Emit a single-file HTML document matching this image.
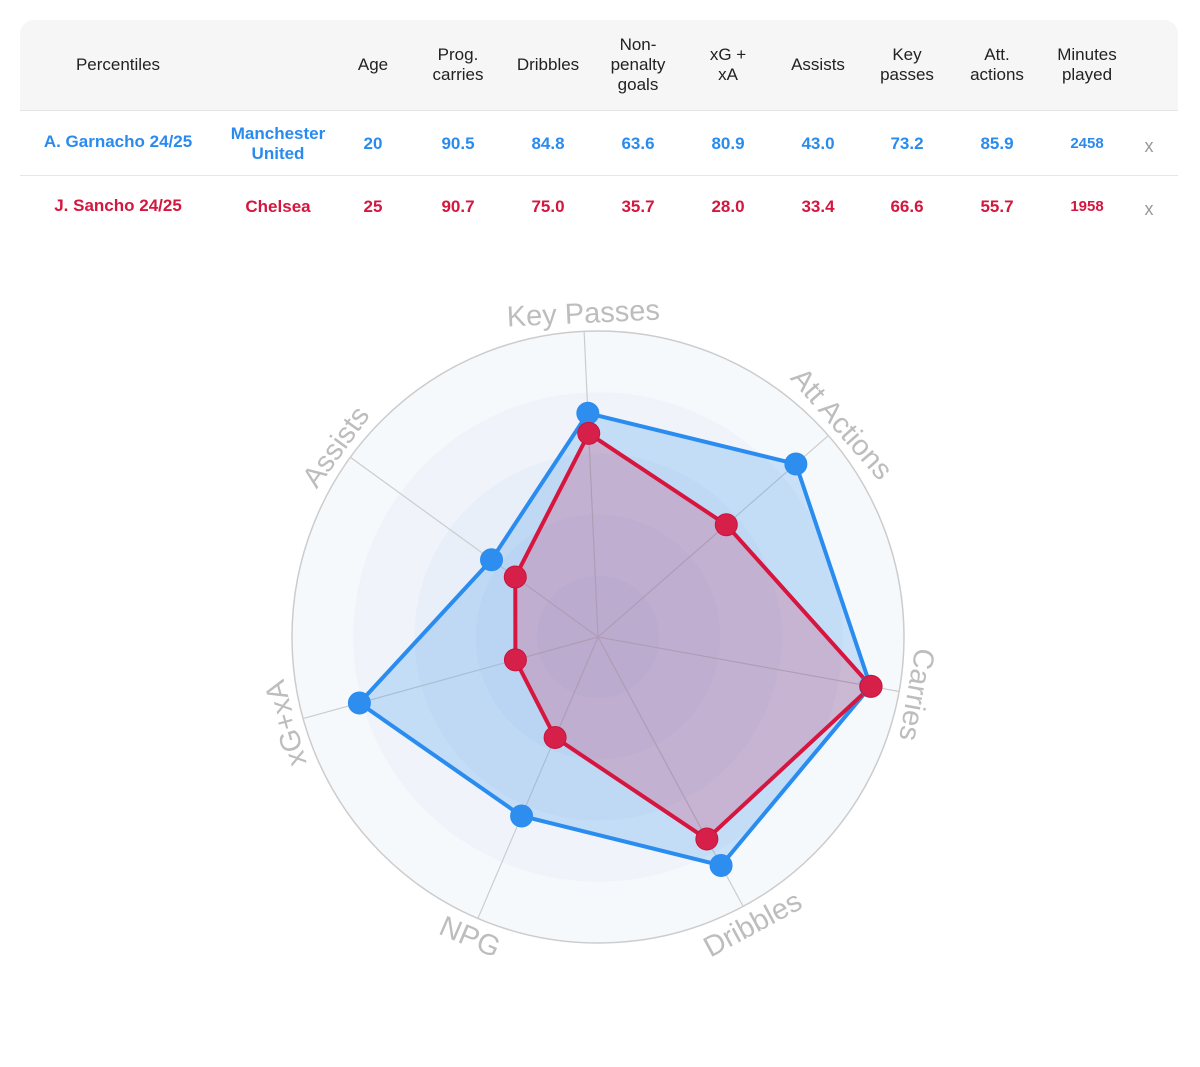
<!DOCTYPE html>
<html><head><meta charset="utf-8"><style>
body{margin:0;width:1200px;height:1067px;background:#fff;font-family:"Liberation Sans",Arial,sans-serif;position:relative;overflow:hidden}
.tbl{position:absolute;left:20px;top:20px;width:1158px}
.hdr{height:90px;background:#f6f6f7;border-radius:14px 14px 0 0;border-bottom:1px solid #e6e6e6;position:relative}
.row{height:64px;border-bottom:1px solid #e6e6e6;position:relative}
.row.last{border-bottom:none}
.c{position:absolute;transform:translate(-50%,-50%);text-align:center;font-size:17px;line-height:20px;white-space:nowrap}
.hdr .c{color:#222;top:45px}
.b{color:#2a8bef;font-weight:bold}
.r{color:#d3173f;font-weight:bold}
.x{color:#999;font-weight:normal;font-size:18px}
</style></head><body>
<div class="tbl">
<div class="hdr">
<div class="c" style="left:98px">Percentiles</div>
<div class="c" style="left:353px">Age</div>
<div class="c" style="left:438px">Prog.<br>carries</div>
<div class="c" style="left:528px">Dribbles</div>
<div class="c" style="left:618px">Non-<br>penalty<br>goals</div>
<div class="c" style="left:708px">xG +<br>xA</div>
<div class="c" style="left:798px">Assists</div>
<div class="c" style="left:887px">Key<br>passes</div>
<div class="c" style="left:977px">Att.<br>actions</div>
<div class="c" style="left:1067px">Minutes<br>played</div>
</div>
<div class="row b">
<div class="c" style="left:98px;top:31px">A. Garnacho 24/25</div>
<div class="c" style="left:258px;top:33px">Manchester<br>United</div>
<div class="c" style="left:353px;top:33px">20</div>
<div class="c" style="left:438px;top:33px">90.5</div>
<div class="c" style="left:528px;top:33px">84.8</div>
<div class="c" style="left:618px;top:33px">63.6</div>
<div class="c" style="left:708px;top:33px">80.9</div>
<div class="c" style="left:798px;top:33px">43.0</div>
<div class="c" style="left:887px;top:33px">73.2</div>
<div class="c" style="left:977px;top:33px">85.9</div>
<div class="c" style="left:1067px;top:33px;font-size:15px">2458</div>
<div class="c x" style="left:1129px;top:35px">x</div>
</div>
<div class="row r last">
<div class="c" style="left:98px;top:30px">J. Sancho 24/25</div>
<div class="c" style="left:258px;top:31px">Chelsea</div>
<div class="c" style="left:353px;top:31px">25</div>
<div class="c" style="left:438px;top:31px">90.7</div>
<div class="c" style="left:528px;top:31px">75.0</div>
<div class="c" style="left:618px;top:31px">35.7</div>
<div class="c" style="left:708px;top:31px">28.0</div>
<div class="c" style="left:798px;top:31px">33.4</div>
<div class="c" style="left:887px;top:31px">66.6</div>
<div class="c" style="left:977px;top:31px">55.7</div>
<div class="c" style="left:1067px;top:31px;font-size:15px">1958</div>
<div class="c x" style="left:1129px;top:33px">x</div>
</div>
</div>
<svg id="s" width="1200" height="1067" style="position:absolute;left:0;top:0" xmlns="http://www.w3.org/2000/svg"></svg>
<script>
var cx=598,cy=637,R=306,ns="http://www.w3.org/2000/svg",s=document.getElementById('s');
function el(t,a,txt){var e=document.createElementNS(ns,t);for(var k in a)e.setAttribute(k,a[k]);if(txt)e.textContent=txt;s.appendChild(e);return e;}
var fills=['#f6f9fc','#f0f4fa','#e9eff8','#e3eaf6','#dde5f4'];
for(var i=0;i<5;i++)el('circle',{cx:cx,cy:cy,r:R*(5-i)/5,fill:fills[i],stroke:i==0?'#ccc':'none','stroke-width':1.5});
var labels=['Key Passes','Att Actions','Carries','Dribbles','NPG','xG+xA','Assists'];
var base=-92.6,step=360/7;
function ang(i){return (base+i*step)*Math.PI/180;}
for(var i=0;i<7;i++){var a=ang(i);el('line',{x1:cx,y1:cy,x2:cx+R*Math.cos(a),y2:cy+R*Math.sin(a),stroke:'#ccc','stroke-width':1.2});}
for(var i=0;i<7;i++){var d=base+i*step,a=ang(i),bottom=(i==3||i==4);var rr=bottom?328:322;
var x=cx+rr*Math.cos(a),y=cy+rr*Math.sin(a),rot=bottom?d-90:d+90;
el('text',{x:x,y:y,'text-anchor':'middle','dominant-baseline':'middle','font-size':29,fill:'#bdbdbd','font-family':'Liberation Sans, Arial, sans-serif',transform:'rotate('+rot+' '+x+' '+y+')'},labels[i]);}
var G=[73.2,85.9,90.5,84.8,63.6,80.9,43.0],S=[66.6,55.7,90.7,75.0,35.7,28.0,33.4];
function poly(v,col,fill){var p=[];for(var i=0;i<7;i++){var a=ang(i),r=R*v[i]/100;p.push([cx+r*Math.cos(a),cy+r*Math.sin(a)]);}
el('polygon',{points:p.map(function(q){return q.join(',')}).join(' '),fill:fill,stroke:col,'stroke-width':4,'stroke-linejoin':'round'});return p;}
var pg=poly(G,'#2b8cef','rgba(43,140,239,0.22)');
var ps=poly(S,'#d6163f','rgba(214,22,63,0.2)');
pg.forEach(function(q){el('circle',{cx:q[0],cy:q[1],r:11,fill:'#2e8ef0',stroke:'#2b8cef','stroke-width':1});});
ps.forEach(function(q){el('circle',{cx:q[0],cy:q[1],r:11,fill:'#d6204a',stroke:'#c8143c','stroke-width':1});});
</script>
</body></html>
